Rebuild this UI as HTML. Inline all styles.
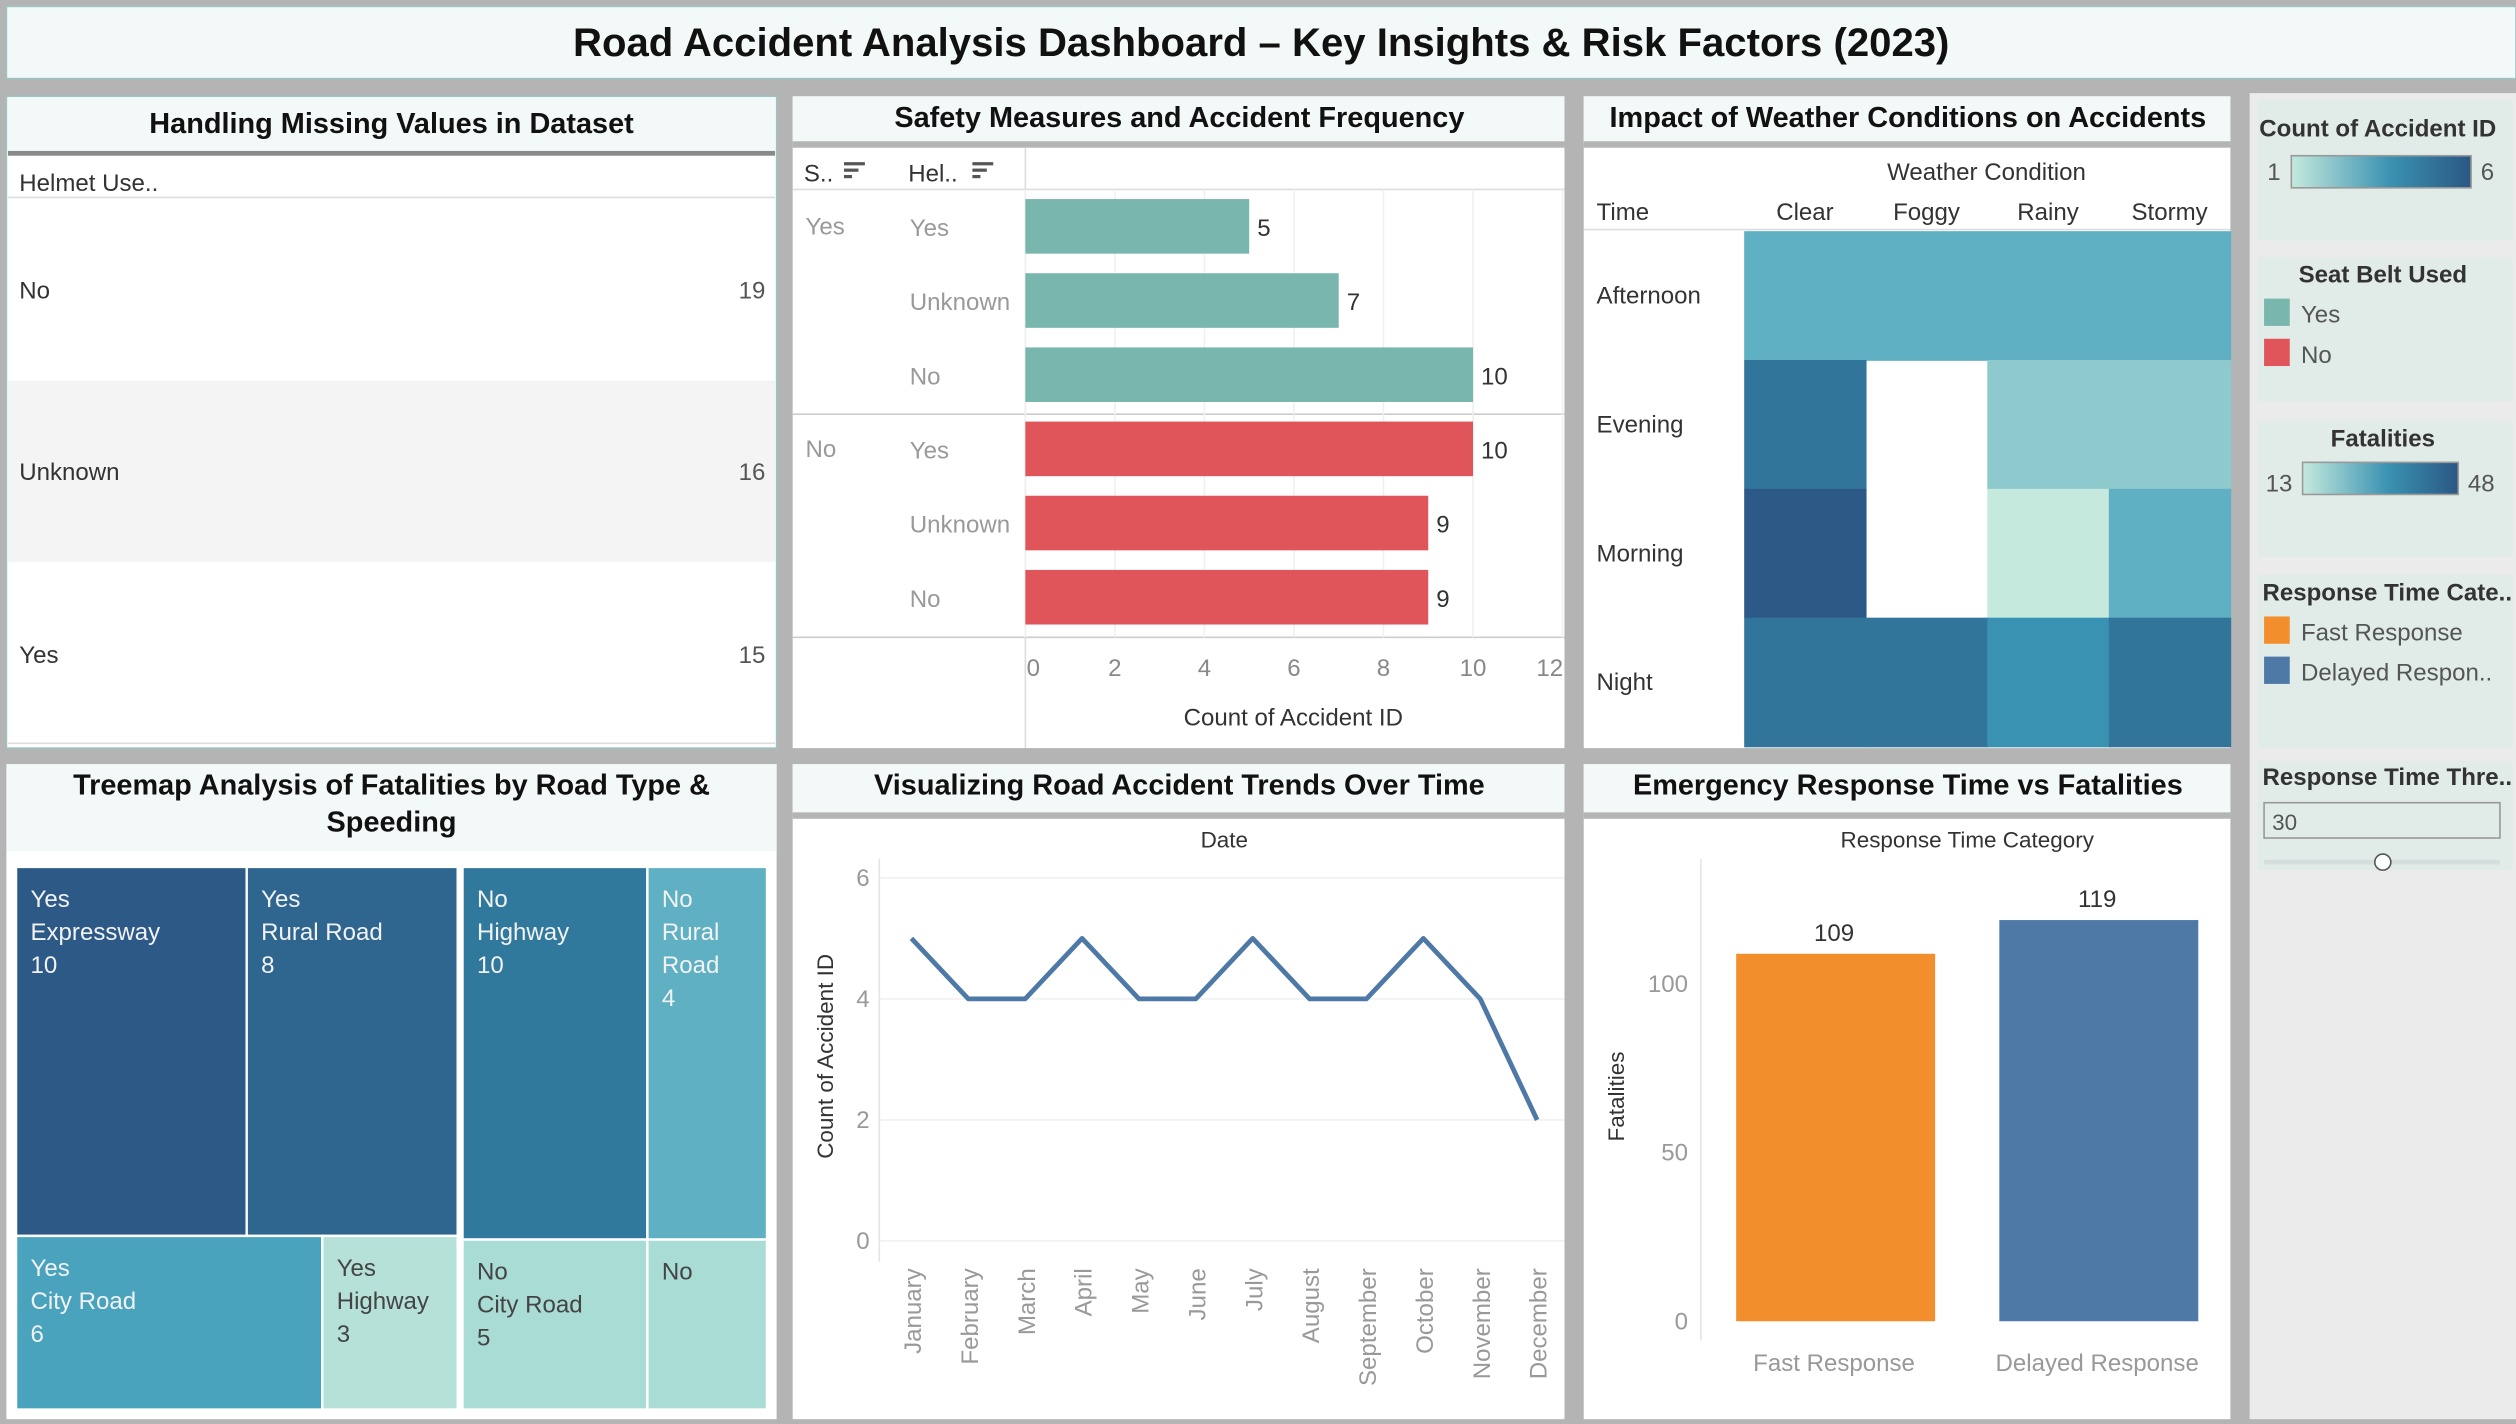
<!DOCTYPE html>
<html><head><meta charset="utf-8"><style>
html,body{margin:0;padding:0;background:#b3b3b3;overflow:hidden}
svg{display:block;font-family:"Liberation Sans",sans-serif}
</style></head><body>
<svg id="dash" width="2516" height="1424" viewBox="0 0 1568 887" preserveAspectRatio="none" xmlns="http://www.w3.org/2000/svg">
<rect x="0" y="0" width="1568" height="887" fill="#b4b4b4"/>
<g>
<rect x="4" y="4" width="1564" height="45" fill="#f3f9f8" stroke="#9cc4c2"/>
<text x="786" y="35" text-anchor="middle" font-size="25" font-weight="bold" fill="#111">Road Accident Analysis Dashboard – Key Insights &amp; Risk Factors (2023)</text>
</g>

<g>
<rect x="4" y="60" width="480" height="406" fill="#fff" stroke="#9cc4c2"/>
<rect x="5" y="61" width="478" height="34" fill="#f3f8f8"/>
<rect x="5" y="94" width="478" height="3" fill="#8a8a8a"/>
<text x="244" y="83" text-anchor="middle" font-size="18" font-weight="bold" fill="#111">Handling Missing Values in Dataset</text>
<text x="12" y="119" font-size="15" fill="#333">Helmet Use..</text>
<line x1="5" y1="123" x2="483" y2="123" stroke="#ddd"/>
<rect x="5" y="237" width="478" height="113" fill="#f4f4f4"/>
<text x="12" y="186" font-size="15" fill="#333">No</text>
<text x="477" y="186" text-anchor="end" font-size="15" fill="#555">19</text>
<text x="12" y="299" font-size="15" fill="#333">Unknown</text>
<text x="477" y="299" text-anchor="end" font-size="15" fill="#555">16</text>
<text x="12" y="413" font-size="15" fill="#333">Yes</text>
<text x="477" y="413" text-anchor="end" font-size="15" fill="#555">15</text>
<line x1="5" y1="463" x2="483" y2="463" stroke="#ddd"/>
</g>

<g>
<rect x="494" y="60" width="481" height="406" fill="#fff"/>
<rect x="494" y="60" width="481" height="29" fill="#f3f8f8"/>
<rect x="494" y="88" width="481" height="4" fill="#b4b4b4"/>
<text x="735" y="79" text-anchor="middle" font-size="18" font-weight="bold" fill="#111">Safety Measures and Accident Frequency</text>
<text x="501" y="113" font-size="15" fill="#333">S..</text>
<text x="566" y="113" font-size="15" fill="#333">Hel..</text>
<g fill="#555"><rect x="526" y="101" width="13" height="2"/><rect x="526" y="105" width="9" height="2"/><rect x="526" y="109" width="5" height="2"/></g>
<g fill="#555"><rect x="606" y="101" width="13" height="2"/><rect x="606" y="105" width="9" height="2"/><rect x="606" y="109" width="5" height="2"/></g>
<line x1="494" y1="118" x2="975" y2="118" stroke="#ddd"/>
<line x1="494" y1="258" x2="975" y2="258" stroke="#ccc"/>
<line x1="494" y1="397" x2="975" y2="397" stroke="#ccc"/>
<line x1="639" y1="92" x2="639" y2="466" stroke="#ddd"/>
<g id="barg"></g>
</g>

<g>
<rect x="987" y="60" width="403" height="406" fill="#fff"/>
<rect x="987" y="60" width="403" height="29" fill="#f3f8f8"/>
<rect x="987" y="88" width="403" height="4" fill="#b4b4b4"/>
<text x="1189" y="79" text-anchor="middle" font-size="18" font-weight="bold" fill="#111">Impact of Weather Conditions on Accidents</text>
<text x="1238" y="112" text-anchor="middle" font-size="15" fill="#333">Weather Condition</text>
<text x="995" y="137" font-size="15" fill="#333">Time</text>
<line x1="987" y1="143" x2="1390" y2="143" stroke="#ddd"/>
<g id="heatg"></g>
</g>

<g>
<rect x="1402" y="58" width="166" height="826" fill="#ebebeb"/>
<rect x="1407" y="62" width="159" height="88" fill="#e1ece9"/>
<text x="1408" y="85" font-size="15" font-weight="bold" fill="#333">Count of Accident ID</text>
<defs><linearGradient id="gr" x1="0" x2="1"><stop offset="0" stop-color="#c5e9dd"/><stop offset="0.55" stop-color="#3a92b2"/><stop offset="1" stop-color="#2a5783"/></linearGradient></defs>
<text x="1413" y="112" font-size="15" fill="#555">1</text>
<rect x="1428" y="97" width="112" height="20" fill="url(#gr)" stroke="#999"/>
<text x="1546" y="112" font-size="15" fill="#555">6</text>
<rect x="1407" y="160" width="159" height="90" fill="#e1ece9"/>
<text x="1485" y="176" text-anchor="middle" font-size="15" font-weight="bold" fill="#333">Seat Belt Used</text>
<rect x="1411" y="186" width="16" height="17" fill="#78b6ae"/>
<text x="1434" y="201" font-size="15" fill="#555">Yes</text>
<rect x="1411" y="211" width="16" height="17" fill="#e0555a"/>
<text x="1434" y="226" font-size="15" fill="#555">No</text>
<rect x="1407" y="262" width="159" height="85" fill="#e1ece9"/>
<text x="1485" y="278" text-anchor="middle" font-size="15" font-weight="bold" fill="#333">Fatalities</text>
<text x="1412" y="306" font-size="15" fill="#555">13</text>
<rect x="1435" y="288" width="97" height="20" fill="url(#gr)" stroke="#999"/>
<text x="1538" y="306" font-size="15" fill="#555">48</text>
<rect x="1407" y="358" width="159" height="108" fill="#e1ece9"/>
<text x="1410" y="374" font-size="15" font-weight="bold" fill="#333">Response Time Cate..</text>
<rect x="1411" y="384" width="16" height="17" fill="#f28e2b"/>
<text x="1434" y="399" font-size="15" fill="#555">Fast Response</text>
<rect x="1411" y="409" width="16" height="17" fill="#4e79a7"/>
<text x="1434" y="424" font-size="15" fill="#555">Delayed Respon..</text>
<rect x="1407" y="474" width="159" height="68" fill="#e1ece9"/>
<text x="1410" y="489" font-size="15" font-weight="bold" fill="#333">Response Time Thre..</text>
<rect x="1411" y="500" width="147" height="22" fill="#e1ece9" stroke="#999"/>
<text x="1416" y="517" font-size="14" fill="#555">30</text>
<line x1="1411" y1="537" x2="1558" y2="537" stroke="#d5dedc" stroke-width="3"/>
<circle cx="1485" cy="537" r="5" fill="#fff" stroke="#555"/>
</g>

<g>
<rect x="4" y="476" width="480" height="408" fill="#fff"/>
<rect x="4" y="476" width="480" height="54" fill="#f3f8f8"/>
<text x="244" y="495" text-anchor="middle" font-size="18" font-weight="bold" fill="#111">Treemap Analysis of Fatalities by Road Type &amp;</text>
<text x="244" y="518" text-anchor="middle" font-size="18" font-weight="bold" fill="#111">Speeding</text>
<g id="treeg"></g>
</g>

<g>
<rect x="494" y="476" width="481" height="408" fill="#fff"/>
<rect x="494" y="476" width="481" height="30" fill="#f3f8f8"/>
<rect x="494" y="506" width="481" height="4" fill="#b4b4b4"/>
<text x="735" y="495" text-anchor="middle" font-size="18" font-weight="bold" fill="#111">Visualizing Road Accident Trends Over Time</text>
<text x="763" y="528" text-anchor="middle" font-size="14" fill="#333">Date</text>
<text transform="translate(519,658) rotate(-90)" text-anchor="middle" font-size="14" fill="#333">Count of Accident ID</text>
<line x1="548" y1="535" x2="548" y2="786" stroke="#e4e4e4"/>
<g id="lineg"></g>
</g>

<g>
<rect x="987" y="476" width="403" height="408" fill="#fff"/>
<rect x="987" y="476" width="403" height="30" fill="#f3f8f8"/>
<rect x="987" y="506" width="403" height="4" fill="#b4b4b4"/>
<text x="1189" y="495" text-anchor="middle" font-size="18" font-weight="bold" fill="#111">Emergency Response Time vs Fatalities</text>
<text x="1226" y="528" text-anchor="middle" font-size="14" fill="#333">Response Time Category</text>
<text transform="translate(1012,683) rotate(-90)" text-anchor="middle" font-size="14" fill="#333">Fatalities</text>
<line x1="1060" y1="535" x2="1060" y2="835" stroke="#e4e4e4"/>
<g id="respg"></g>
</g>
</svg>
<script>
const NS='http://www.w3.org/2000/svg';
function mk(p,tag,attrs,txt){const e=document.createElementNS(NS,tag);for(const k in attrs)e.setAttribute(k,attrs[k]);if(txt!==undefined)e.textContent=txt;p.appendChild(e);return e;}

// ---- Bar chart data ----
const barSeatBelt=['Yes','Yes','Yes','No','No','No'];
const barHelmet=['Yes','Unknown','No','Yes','Unknown','No'];
const barValues=[5,7,10,10,9,9];
const barTicks=[0,2,4,6,8,10,12];
const bx=v=>639+v*27.9, byc=i=>141+i*46.2;
const bg=document.getElementById('barg');
barTicks.forEach(t=>{
  const l=mk(bg,'line',{x1:bx(t),x2:bx(t),y1:118,y2:397,stroke:'#f0f0f0'});
  
  
  const tx=mk(bg,'text',{x:bx(t)+(t===0?5:t===12?-8:0),y:421,'text-anchor':'middle','font-size':15,fill:'#888'},t);
  
  
});
const at=mk(bg,'text',{x:806,y:452,'text-anchor':'middle','font-size':15,fill:'#333'},'Count of Accident ID');


barValues.forEach((v,i)=>{
  const r=mk(bg,'rect',{x:bx(0),y:byc(i)-17,width:bx(v)-bx(0),height:34,fill:barSeatBelt[i]==='Yes'?'#78b6ae':'#e0555a'});
  
  
  const t=mk(bg,'text',{x:bx(v)+5,y:byc(i)+6,'font-size':15,fill:'#333'},v);
  
  
  const h=mk(bg,'text',{x:567,y:byc(i)+6,'font-size':15,fill:'#999'},barHelmet[i]);
  
  
  if(i===0||barSeatBelt[i]!==barSeatBelt[i-1]){
    const s=mk(bg,'text',{x:502,y:byc(i)+5,'font-size':15,fill:'#999'},barSeatBelt[i]);
    
    
  }
});

// ---- Heatmap data ----
const heatWeather=['Clear','Foggy','Rainy','Stormy'];
const heatTimes=['Afternoon','Evening','Morning','Night'];
const heatCounts=[[3,3,3,3],[5,null,2,2],[6,null,1,3],[5,5,4,5]];
const colorStops=[[1,[197,233,221]],[2,[142,202,205]],[3,[94,176,194]],[4,[58,146,178]],[5,[49,118,154]],[6,[45,89,134]]];
function seq(v){for(let i=0;i<colorStops.length-1;i++){const[a,ca]=colorStops[i],[b,cb]=colorStops[i+1];if(v<=b){const f=(v-a)/(b-a);return 'rgb('+ca.map((c,j)=>Math.round(c+(cb[j]-c)*f)).join(',')+')';}}return 'rgb(45,89,134)';}
const hg=document.getElementById('heatg');
const hx0=1087,hw=(1390-1087)/4,hy0=144,hh=(465-144)/4;
heatWeather.forEach((w,j)=>{
  const t=mk(hg,'text',{x:hx0+hw*j+hw/2,y:137,'text-anchor':'middle','font-size':15,fill:'#333'},w);
  
  
});
heatTimes.forEach((tm,i)=>{
  const t=mk(hg,'text',{x:995,y:hy0+hh*i+hh/2+5,'font-size':15,fill:'#333'},tm);
  
  
  heatCounts[i].forEach((v,j)=>{
    if(v===null)return;
    const r=mk(hg,'rect',{x:hx0+hw*j,y:hy0+hh*i,width:hw+0.5,height:hh+0.5,fill:seq(v)});
    
    
  });
});

// ---- Treemap data ----
const treeSpeeding=['Yes','Yes','Yes','Yes','No','No','No','No'];
const treeRoad=['Expressway','Rural Road','City Road','Highway','Highway','City Road','Rural Road',''];
const treeValues=[10,8,6,3,10,5,4,2];
const treeColors=['#2d5986','#2f6690','#4aa3bd','#b6e1d8','#31799c','#a9dcd4','#5eb0c2','#a9dcd4'];
const tg=document.getElementById('treeg');
const TX=10,TY=540,TW=468,TH=338;
const sumY=treeValues.slice(0,4).reduce((a,b)=>a+b),sumN=treeValues.slice(4).reduce((a,b)=>a+b);
const wY=TW*sumY/(sumY+sumN)+12;
function tile(i,x,y,w,h){
  const r=mk(tg,'rect',{x:x,y:y,width:w,height:h,fill:treeColors[i],stroke:'#fff','stroke-width':1.5});
  
  
  const dark=['#b6e1d8','#a9dcd4'].includes(treeColors[i]);
  const col=dark?'#444':'#f2f2f2';
  let lines=[treeSpeeding[i]];
  if(treeRoad[i]){ if(w<90) lines=lines.concat(treeRoad[i].split(' ')); else lines.push(treeRoad[i]); lines.push(String(treeValues[i])); }
  lines.forEach((s,k)=>{
    const t=mk(tg,'text',{x:x+9,y:y+25+k*20.5,'font-size':15,fill:col},s);
    
    
  });
}
{
  const top=treeValues[0]+treeValues[1],bot=treeValues[2]+treeValues[3];
  const hT=TH*top/(top+bot)*1.02;
  const w0=wY*treeValues[0]/top*0.94;
  tile(0,TX,TY,w0,hT);tile(1,TX+w0,TY,wY-w0,hT);
  const w2=wY*treeValues[2]/bot*1.04;
  tile(2,TX,TY+hT,w2,TH-hT);tile(3,TX+w2,TY+hT,wY-w2,TH-hT);
}
{
  const x0=TX+wY+3,wN=TX+TW-x0;
  const L=treeValues[4]+treeValues[5],R=treeValues[6]+treeValues[7];
  const wL=wN*L/(L+R)*0.85;
  const hL=TH*treeValues[4]/L*1.03;
  tile(4,x0,TY,wL,hL);tile(5,x0,TY+hL,wL,TH-hL);
  tile(6,x0+wL,TY,wN-wL,hL);tile(7,x0+wL,TY+hL,wN-wL,TH-hL);
}

// ---- Line chart data ----
const months=['January','February','March','April','May','June','July','August','September','October','November','December'];
const monthCounts=[5,4,4,5,4,4,5,4,4,5,4,2];
const lineTicks=[0,2,4,6];
const lx=i=>568+i*35.45, ly=v=>773-v*37.7;
const lg=document.getElementById('lineg');
lineTicks.forEach(t=>{
  const l=mk(lg,'line',{x1:548,x2:975,y1:ly(t),y2:ly(t),stroke:'#f1f1f1'});
  
  
  const tx=mk(lg,'text',{x:542,y:ly(t)+5,'text-anchor':'end','font-size':15,fill:'#999'},t);
  
  
});
months.forEach((m,i)=>{
  const t=mk(lg,'text',{transform:'translate('+(lx(i)+6)+',790) rotate(-90)','text-anchor':'end','font-size':15,fill:'#999'},m);
  
  
});
const pl=mk(lg,'polyline',{points:monthCounts.map((v,i)=>lx(i)+','+ly(v)).join(' '),fill:'none',stroke:'#4e79a7','stroke-width':3,'stroke-linejoin':'round'});



// ---- Response chart data ----
const respCats=['Fast Response','Delayed Response'];
const respValues=[109,119];
const respTicks=[0,50,100];
const respColors=['#f28e2b','#4e79a7'];
const ry=v=>823-v*2.1, rx=i=>1082+i*164;
const rg=document.getElementById('respg');
respTicks.forEach(t=>{
  const tx=mk(rg,'text',{x:1052,y:ry(t)+5,'text-anchor':'end','font-size':15,fill:'#999'},t);
  
  
});
respValues.forEach((v,i)=>{
  const r=mk(rg,'rect',{x:rx(i),y:ry(v),width:124,height:ry(0)-ry(v),fill:respColors[i]});
  
  
  const t=mk(rg,'text',{x:rx(i)+61,y:ry(v)-8,'text-anchor':'middle','font-size':15,fill:'#333'},v);
  
  
  const c=mk(rg,'text',{x:rx(i)+61,y:854,'text-anchor':'middle','font-size':15,fill:'#999'},respCats[i]);
  
  
});
</script>
</body></html>
